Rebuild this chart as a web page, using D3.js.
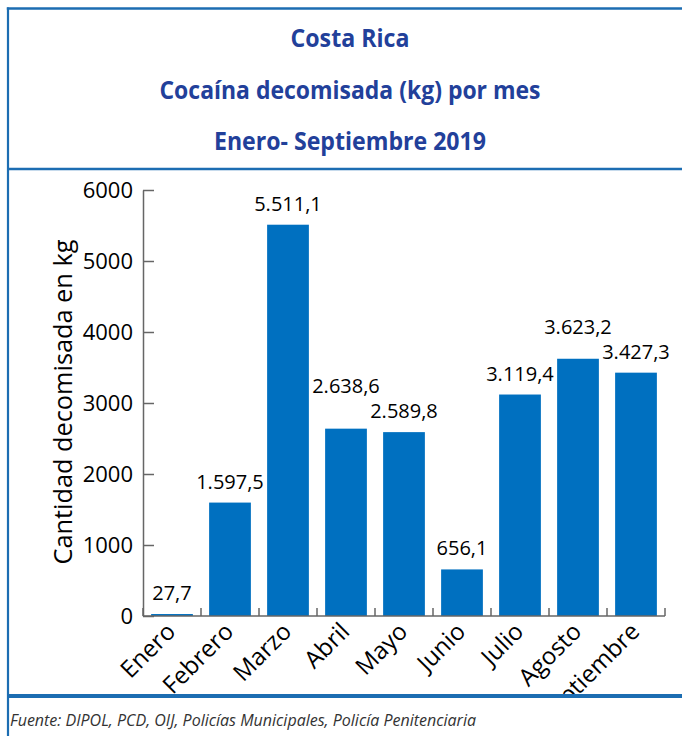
<!DOCTYPE html>
<html><head><meta charset="utf-8">
<script src="https://cdn.jsdelivr.net/npm/d3@7"></script>
<style>html,body{margin:0;padding:0;background:#fff;} svg{display:block;}</style>
</head><body><svg id="c" width="682" height="736"></svg>
<script>
const months = ["Enero","Febrero","Marzo","Abril","Mayo","Junio","Julio","Agosto","Septiembre"];
const values = [27.7,1597.5,5511.1,2638.6,2589.8,656.1,3119.4,3623.2,3427.3];
const yTicks = [0,1000,2000,3000,4000,5000,6000];
const titleLines = ["Costa Rica","Cocaína decomisada (kg) por mes","Enero- Septiembre 2019"];
const yAxisTitle = "Cantidad decomisada en kg";
const source = "Fuente: DIPOL, PCD, OIJ, Policías Municipales, Policía Penitenciaria";

const svg = d3.select("#c");
const frameColor = "#1c6db2";
const barColor = "#0070c0";
const titleColor = "#22409a";
const axisColor = "#666666";
const font = "'Open Sans', 'Noto Sans', sans-serif";

const loc = d3.formatLocale({decimal:",", thousands:".", grouping:[3], currency:["",""]});
const fmt = loc.format(",.1f");

const x = d3.scaleBand().domain(months).range([143,665]).paddingInner(0.28).paddingOuter(0.14);
const y = d3.scaleLinear().domain([0,6000]).range([616,190]);

const g = svg.append("g");

// bars
g.selectAll("rect.bar").data(values).join("rect").attr("class","bar")
  .attr("x",(d,i)=>x(months[i])).attr("y",d=>y(d))
  .attr("width",x.bandwidth()).attr("height",d=>y(0)-y(d))
  .attr("fill",barColor);

// y axis
const yAxis = g.append("g").attr("transform",`translate(${x.range()[0]},0)`)
  .call(d3.axisLeft(y).tickValues(yTicks).tickFormat(d3.format("d")).tickSizeInner(-11).tickSizeOuter(0).tickPadding(10));
yAxis.select(".domain").attr("stroke",axisColor).attr("stroke-width",1.5);
yAxis.selectAll(".tick line").attr("stroke",axisColor).attr("stroke-width",1.5);
yAxis.selectAll(".tick text").attr("font-family",font).attr("font-size",22).attr("fill","#000").attr("dy","0.35em");

// x axis
const x0 = x.range()[0], x1 = x.range()[1];
g.append("line").attr("x1",x0).attr("x2",x1).attr("y1",y(0)).attr("y2",y(0))
  .attr("stroke",axisColor).attr("stroke-width",1.5);
const bounds = months.map(m => x(m) - x.step()*x.paddingInner()/2).concat([x1]);
g.selectAll("line.xt").data(bounds).join("line").attr("class","xt")
  .attr("x1",d=>d).attr("x2",d=>d).attr("y1",y(0)).attr("y2",y(0)-8)
  .attr("stroke",axisColor).attr("stroke-width",1.5);
g.selectAll("text.xl").data(months).join("text").attr("class","xl")
  .attr("transform",m=>`translate(${x(m)+x.bandwidth()/2+5},${y(0)+17}) rotate(-45)`)
  .attr("text-anchor","end").attr("font-family",font).attr("font-size",24).attr("fill","#000")
  .text(m=>m);

// value labels
const vl = g.selectAll("text.vl").data(values).join("text").attr("class","vl")
  .attr("x",(d,i)=>x(months[i])+x.bandwidth()/2)
  .attr("text-anchor","middle").attr("font-family",font).attr("font-size",20).attr("fill","#000")
  .text(d=>fmt(d));
const nodes = vl.nodes();
const widths = nodes.map(n=>n.getComputedTextLength());
const ys = values.map(v=>y(v)-14);
for (let i=values.length-2;i>=0;i--){
  const hOverlap = (widths[i]+widths[i+1])/2 > x.step();
  if (hOverlap && Math.abs(ys[i]-ys[i+1]) < 22) ys[i] = Math.min(ys[i], ys[i+1]-25);
}
vl.attr("y",(d,i)=>ys[i]);

// y axis title
const yt = g.append("text").attr("transform","translate(63,402) rotate(-90)")
  .attr("text-anchor","middle").attr("dy","0.35em")
  .attr("font-family",font).attr("font-size",22).attr("fill","#000").text(yAxisTitle);
const ytl = yt.node().getComputedTextLength();
yt.attr("font-size", 22*325/ytl);

// footer cover
svg.append("rect").attr("x",0).attr("y",694).attr("width",682).attr("height",42).attr("fill","#fff");

// titles
const tPos = [{y:47,w:119},{y:99,w:381},{y:150,w:272}];
svg.selectAll("text.title").data(titleLines).join("text").attr("class","title")
  .attr("x",350).attr("y",(d,i)=>tPos[i].y).attr("text-anchor","middle")
  .attr("font-family",font).attr("font-weight","bold").attr("font-size",25)
  .attr("fill",titleColor)
  .attr("textLength",(d,i)=>tPos[i].w).attr("lengthAdjust","spacingAndGlyphs")
  .text(d=>d);

// frame lines
svg.append("line").attr("x1",6.8).attr("x2",682).attr("y1",8.5).attr("y2",8.5).attr("stroke",frameColor).attr("stroke-width",2.5);
svg.append("line").attr("x1",8).attr("x2",8).attr("y1",7.5).attr("y2",736).attr("stroke",frameColor).attr("stroke-width",2.2);
svg.append("line").attr("x1",8).attr("x2",682).attr("y1",169).attr("y2",169).attr("stroke",frameColor).attr("stroke-width",2.5);
svg.append("line").attr("x1",8).attr("x2",682).attr("y1",696).attr("y2",696).attr("stroke",frameColor).attr("stroke-width",4);

// source
svg.append("text").attr("x",10).attr("y",726)
  .attr("font-family",font).attr("font-style","italic").attr("font-size",16).attr("fill","#333")
  .attr("textLength",466).attr("lengthAdjust","spacingAndGlyphs").text(source);
</script></body></html>
